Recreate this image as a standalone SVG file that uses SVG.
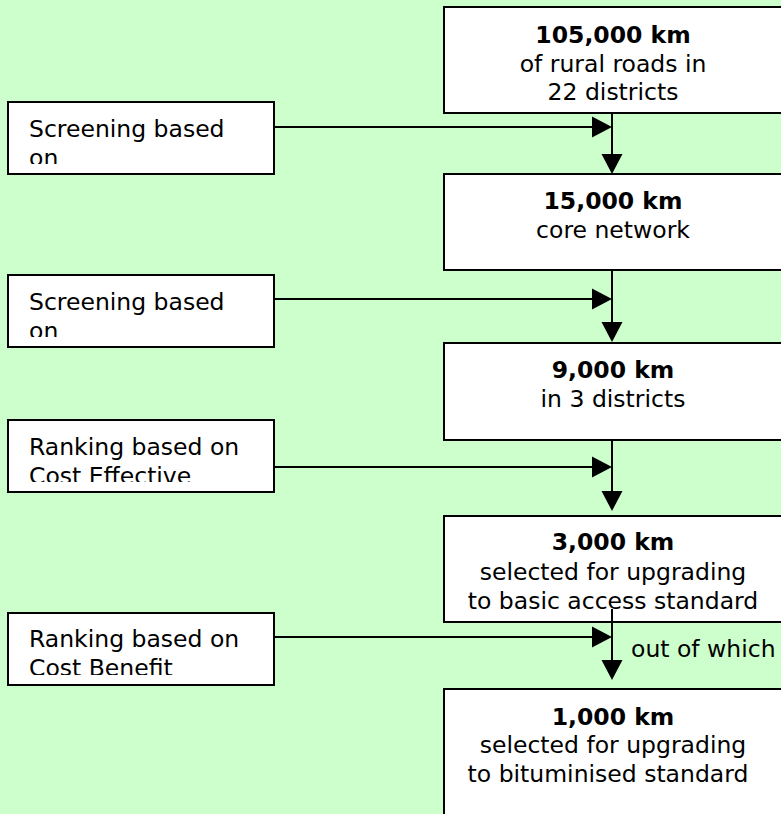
<svg xmlns="http://www.w3.org/2000/svg" width="781" height="814" viewBox="0 0 781 814">
<style>
.box{fill:#fff;stroke:#000;stroke-width:2}
.t{font-family:"DejaVu Sans",Verdana,sans-serif;font-size:23.5px;fill:#000}
.c{text-anchor:middle}
.b{font-weight:bold}
.ln{stroke:#000;stroke-width:2;fill:none}
.ah{fill:#000}
</style>
<defs>
<clipPath id="c1"><rect x="9" y="103" width="264" height="61"/></clipPath>
<clipPath id="c2"><rect x="9" y="276" width="264" height="61"/></clipPath>
<clipPath id="c3"><rect x="9" y="421" width="264" height="61"/></clipPath>
<clipPath id="c4"><rect x="9" y="614" width="264" height="61"/></clipPath>
</defs>
<rect x="0" y="0" width="781" height="814" fill="#ccffcc"/>
<g id="n1"><rect class="box" x="444" y="7" width="340" height="106"/>
<text class="t c b" x="613" y="43">105,000 km</text>
<text class="t c" x="613" y="72">of rural roads in</text>
<text class="t c" x="613" y="100">22 districts</text></g>
<g id="n2"><rect class="box" x="444" y="174" width="340" height="96"/>
<text class="t c b" x="613" y="209">15,000 km</text>
<text class="t c" x="613" y="238">core network</text></g>
<g id="n3"><rect class="box" x="444" y="343" width="340" height="97"/>
<text class="t c b" x="613" y="378">9,000 km</text>
<text class="t c" x="613" y="407">in 3 districts</text></g>
<g id="n4"><rect class="box" x="444" y="516" width="340" height="106"/>
<text class="t c b" x="613" y="550">3,000 km</text>
<text class="t c" x="613" y="580">selected for upgrading</text>
<text class="t c" x="613" y="609">to basic access standard</text></g>
<g id="n5"><rect class="box" x="444" y="689" width="340" height="140"/>
<text class="t c b" x="613" y="725">1,000 km</text>
<text class="t c" x="613" y="753">selected for upgrading</text>
<text class="t c" x="608" y="782">to bituminised standard</text></g>
<g id="s1"><rect class="box" x="8" y="102" width="266" height="72"/>
<g clip-path="url(#c1)"><text class="t" x="29" y="137">Screening based</text><text class="t" x="29" y="166">on</text></g></g>
<g id="s2"><rect class="box" x="8" y="275" width="266" height="72"/>
<g clip-path="url(#c2)"><text class="t" x="29" y="310">Screening based</text><text class="t" x="29" y="339">on</text></g></g>
<g id="s3"><rect class="box" x="8" y="420" width="266" height="72"/>
<g clip-path="url(#c3)"><text class="t" x="29" y="455">Ranking based on</text><text class="t" x="29" y="484">Cost Effective</text></g></g>
<g id="s4"><rect class="box" x="8" y="613" width="266" height="72"/>
<g clip-path="url(#c4)"><text class="t" x="29" y="647">Ranking based on</text><text class="t" x="29" y="676">Cost Benefit</text></g></g>
<g id="connectors">
<path class="ln" d="M612 113V155M612 270V323M612 440V492M612 609V661"/>
<path class="ah" d="M601.5 154H622.5L612 174ZM601.5 322H622.5L612 342ZM601.5 491H622.5L612 511ZM601.5 660H622.5L612 680Z"/>
<path class="ln" d="M274 127H594M274 299H594M274 467H594M274 637H594"/>
<path class="ah" d="M592 116.5V137.5L612 127ZM592 288.5V309.5L612 299ZM592 456.5V477.5L612 467ZM592 626.5V647.5L612 637Z"/>
</g>
<text class="t" x="631" y="657">out of which</text>
</svg>
